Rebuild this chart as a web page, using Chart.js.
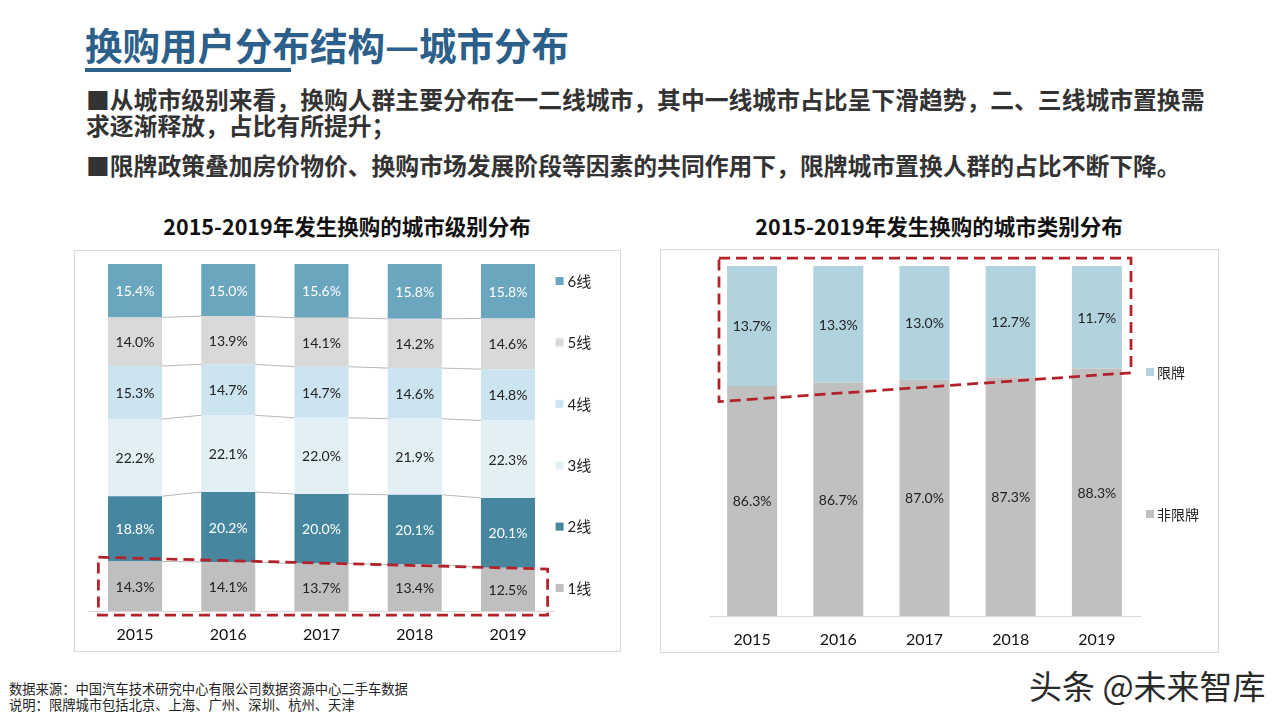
<!DOCTYPE html>
<html>
<head>
<meta charset="utf-8">
<script src="https://cdn.jsdelivr.net/npm/chart.js@4.4.1/dist/chart.umd.min.js"></script>
<style>
  html, body { margin:0; padding:0; width:1280px; height:720px; background:#fff; overflow:hidden; }
  body { position:relative; font-family:'Noto Sans CJK SC', sans-serif; }
  .abs { position:absolute; white-space:nowrap; }
  #title { left:85px; top:25px; font-size:37.5px; line-height:37px; font-weight:700; color:#2C5F8A; }
  #uline { left:85px; top:68px; width:206px; height:4px; background:#2C5F8A; }
  .bullet { left:86px; font-size:23.8px; line-height:26px; font-weight:700; color:#333; }
  .ctitle { font-size:21.5px; line-height:26px; font-weight:700; color:#111; text-align:center; }
  .box { border:1px solid #D9D9D9; box-sizing:border-box; }
  .foot { left:9px; font-size:13.3px; line-height:16px; color:#222; }
  #wm { left:1029px; top:666px; font-size:33px; line-height:38px; color:#2a2a2a; font-weight:400; }
  canvas { position:absolute; }
</style>
</head>
<body>
<div id="title" class="abs">换购用户分布结构—城市分布</div>
<div id="uline" class="abs"></div>
<div class="abs bullet" style="top:86px;">■从城市级别来看，换购人群主要分布在一二线城市，其中一线城市占比呈下滑趋势，二、三线城市置换需<br>求逐渐释放，占比有所提升；</div>
<div class="abs bullet" style="top:152px;">■限牌政策叠加房价物价、换购市场发展阶段等因素的共同作用下，限牌城市置换人群的占比不断下降。</div>

<div class="abs ctitle" style="left:74px; top:213px; width:546px;">2015-2019年发生换购的城市级别分布</div>
<div class="abs ctitle" style="left:660px; top:213px; width:558px;">2015-2019年发生换购的城市类别分布</div>

<div class="abs box" style="left:74px; top:250px; width:547px; height:402px;"></div>
<div class="abs box" style="left:660px; top:249px; width:559px; height:404px;"></div>
<canvas id="c1" width="546" height="401" style="left:74px; top:250px;"></canvas>
<canvas id="c2" width="558" height="403" style="left:660px; top:249px;"></canvas>

<div class="abs foot" style="top:681px;">数据来源：中国汽车技术研究中心有限公司数据资源中心二手车数据</div>
<div class="abs foot" style="top:697px;">说明：限牌城市包括北京、上海、广州、深圳、杭州、天津</div>
<div id="wm" class="abs">头条 @未来智库</div>

<script>
// ---- data ----
const years = ['2015', '2016', '2017', '2018', '2019'];
const tierNames = ['1线', '2线', '3线', '4线', '5线', '6线'];
const tier1 = [14.3, 14.1, 13.7, 13.4, 12.5];
const tier2 = [18.8, 20.2, 20.0, 20.1, 20.1];
const tier3 = [22.2, 22.1, 22.0, 21.9, 22.3];
const tier4 = [15.3, 14.7, 14.7, 14.6, 14.8];
const tier5 = [14.0, 13.9, 14.1, 14.2, 14.6];
const tier6 = [15.4, 15.0, 15.6, 15.8, 15.8];
const typeNames = ['非限牌', '限牌'];
const unrestricted = [86.3, 86.7, 87.0, 87.3, 88.3];
const restricted = [13.7, 13.3, 13.0, 12.7, 11.7];
// value axis ranges (the right chart's axis starts at 60%)
const tierAxis = [0, 100];
const typeAxis = [60, 100];

// ---- styles ----
const NUM_FONT = "Lato, 'Noto Sans CJK SC', sans-serif";
const tierColors = ['#BFBFBF', '#46869F', '#E2EFF5', '#CCE4EF', '#D9D9D9', '#6AA7BF'];
const tierLabelColors = ['#222', '#fff', '#222', '#222', '#222', '#fff'];
const typeColors = ['#C0C0C0', '#B1D3DE'];
const typeLabelColors = ['#222', '#222'];

// ---- plugins ----
const valueLabels = {
  id: 'valueLabels',
  afterDatasetsDraw(chart, args, opts) {
    const ctx = chart.ctx, ca = chart.chartArea;
    ctx.save();
    ctx.font = opts.font;
    ctx.textAlign = 'center';
    ctx.textBaseline = 'middle';
    chart.data.datasets.forEach((ds, d) => {
      chart.getDatasetMeta(d).data.forEach((el, i) => {
        const top = Math.max(Math.min(el.y, el.base), ca.top);
        const bottom = Math.min(Math.max(el.y, el.base), ca.bottom);
        ctx.fillStyle = ds.labelColor;
        ctx.fillText(ds.data[i].toFixed(1) + '%', el.x, (top + bottom) / 2 + 1);
      });
    });
    ctx.restore();
  }
};

const seriesLines = {
  id: 'seriesLines',
  afterDatasetsDraw(chart, args, opts) {
    if (!opts.enabled) return;
    const ctx = chart.ctx;
    ctx.save();
    ctx.strokeStyle = opts.color;
    ctx.lineWidth = opts.width;
    const n = chart.data.datasets.length;
    for (let d = 0; d < n - 1; d++) {
      const els = chart.getDatasetMeta(d).data;
      for (let i = 0; i < els.length - 1; i++) {
        const a = els[i], b = els[i + 1];
        ctx.beginPath();
        ctx.moveTo(a.x + a.width / 2, a.y);
        ctx.lineTo(b.x - b.width / 2, b.y);
        ctx.stroke();
      }
    }
    ctx.restore();
  }
};

const sideLegend = {
  id: 'sideLegend',
  afterDraw(chart, args, opts) {
    const ctx = chart.ctx, ca = chart.chartArea;
    const items = chart.data.datasets.map(ds => ({ text: ds.label, color: ds.backgroundColor })).reverse();
    ctx.save();
    ctx.font = opts.font;
    ctx.textBaseline = 'middle';
    ctx.textAlign = 'left';
    items.forEach((it, k) => {
      const y = ca.top + opts.first + k * opts.step;
      const x = ca.right + opts.dx;
      ctx.fillStyle = it.color;
      ctx.fillRect(x, y - opts.box / 2, opts.box, opts.box);
      ctx.fillStyle = opts.color;
      ctx.fillText(it.text, x + opts.box + opts.gap, y + 1);
    });
    ctx.restore();
  }
};

const outline = {
  id: 'outline',
  afterDraw(chart, args, opts) {
    const ctx = chart.ctx;
    const pts = opts.shape(chart.chartArea, chart.scales.y);
    ctx.save();
    ctx.strokeStyle = opts.color;
    ctx.lineWidth = opts.width;
    ctx.setLineDash(opts.dash);
    ctx.beginPath();
    pts.forEach((p, i) => i ? ctx.lineTo(p[0], p[1]) : ctx.moveTo(p[0], p[1]));
    ctx.closePath();
    ctx.stroke();
    ctx.restore();
  }
};

function baseOptions(padding, axisHeight, range, extra) {
  return {
    responsive: false,
    animation: false,
    devicePixelRatio: 1,
    layout: { padding: padding },
    plugins: Object.assign({ legend: { display: false }, tooltip: { enabled: false } }, extra),
    scales: {
      x: {
        stacked: true,
        grid: { display: false, drawTicks: false },
        border: { display: true, color: '#D9D9D9', width: 1 },
        ticks: { color: '#111', font: { family: NUM_FONT, size: 16 }, padding: 14 },
        afterFit(s) { s.height = axisHeight; }
      },
      y: { stacked: true, display: false, min: range[0], max: range[1] }
    }
  };
}

const tierSeries = [tier1, tier2, tier3, tier4, tier5, tier6];
new Chart(document.getElementById('c1'), {
  type: 'bar',
  data: {
    labels: years,
    datasets: tierSeries.map((arr, i) => ({
      label: tierNames[i],
      data: arr,
      backgroundColor: tierColors[i],
      labelColor: tierLabelColors[i],
      barPercentage: 0.58,
      categoryPercentage: 1.0,
      borderWidth: 0
    }))
  },
  options: baseOptions({ left: 14.4, right: 65.4, top: 14, bottom: 0 }, 40, tierAxis, {
    valueLabels: { font: '14px ' + NUM_FONT },
    seriesLines: { enabled: true, color: '#A6A6A6', width: 0.8 },
    sideLegend: { font: '15px ' + NUM_FONT, color: '#222', first: 17, step: 61.4, dx: 1, box: 8, gap: 4 },
    outline: {
      color: '#B3222A', width: 2.75, dash: [11, 6],
      shape: (ca, y) => [[ca.left + 10, y.getPixelForValue(15.5)], [ca.right - 7, y.getPixelForValue(12.1)],
                         [ca.right - 7, ca.bottom + 4], [ca.left + 10, ca.bottom + 4]]
    }
  }),
  plugins: [seriesLines, valueLabels, sideLegend, outline]
});

const typeSeries = [unrestricted, restricted];
new Chart(document.getElementById('c2'), {
  type: 'bar',
  data: {
    labels: years,
    datasets: typeSeries.map((arr, i) => ({
      label: typeNames[i],
      data: arr,
      backgroundColor: typeColors[i],
      labelColor: typeLabelColors[i],
      barPercentage: 0.58,
      categoryPercentage: 1.0,
      borderWidth: 0
    }))
  },
  options: baseOptions({ left: 49, right: 78, top: 17, bottom: 0 }, 36, typeAxis, {
    valueLabels: { font: '14px ' + NUM_FONT },
    seriesLines: { enabled: false },
    sideLegend: { font: '14px ' + NUM_FONT, color: '#222', first: 106, step: 142, dx: 6, box: 8, gap: 3 },
    outline: {
      color: '#B3222A', width: 2.75, dash: [11, 6],
      shape: (ca, y) => [[ca.left + 10, ca.top - 8], [ca.right - 9, ca.top - 8],
                         [ca.right - 9, y.getPixelForValue(87.8)], [ca.left + 10, y.getPixelForValue(84.5)]]
    }
  }),
  plugins: [valueLabels, sideLegend, outline]
});
</script>
</body>
</html>
